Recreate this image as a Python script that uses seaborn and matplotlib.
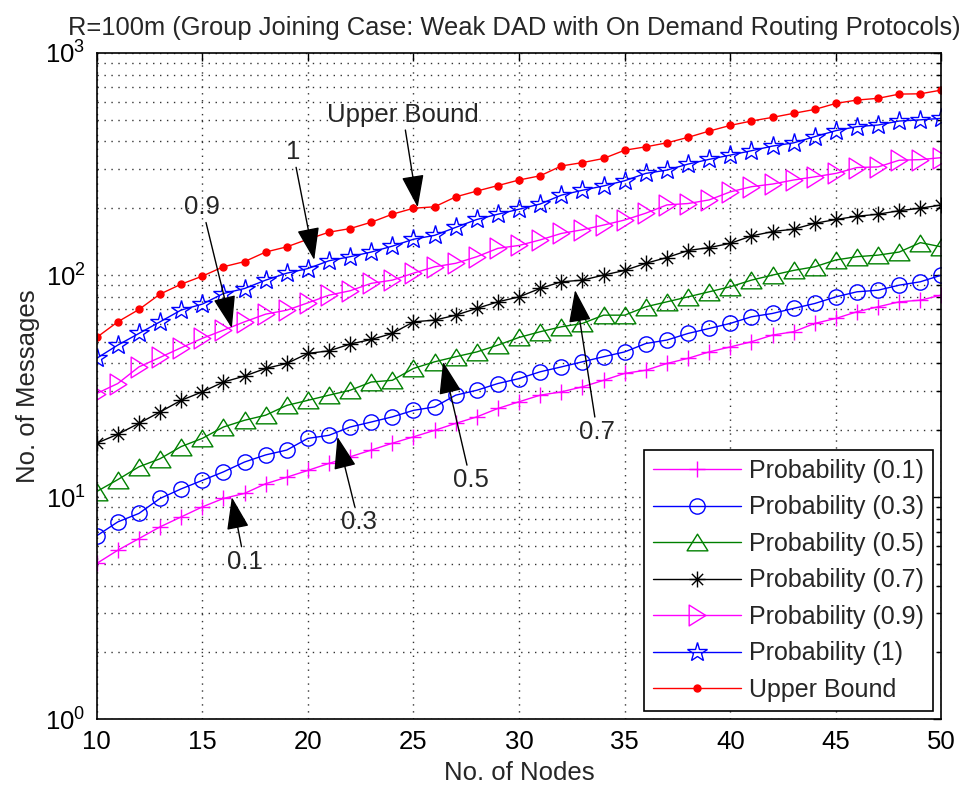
import numpy as np
import pandas as pd
import matplotlib
matplotlib.use("Agg")
import matplotlib.pyplot as plt
from matplotlib.path import Path
from matplotlib.ticker import LogLocator, FixedLocator, NullLocator
import seaborn as sns

# ---- data -------------------------------------------------------------
nodes = list(range(10, 51))

p01 = [5.03, 5.77, 6.51, 7.35, 8.15, 9.04, 9.87, 10.4, 11.5, 12.3,
       13.2, 14.2, 15.2, 16.3, 17.5, 18.7, 20.0, 21.5, 23.0, 25.1,
       26.9, 28.8, 29.8, 31.4, 33.6, 36.1, 37.3, 40.0, 42.2, 45.1,
       47.5, 50.1, 53.7, 55.6, 60.6, 63.8, 68.4, 72.0, 75.8, 77.1, 81.3]

p03 = [6.7, 7.74, 8.45, 9.87, 10.9, 11.9, 13.0, 14.4, 15.5, 16.3,
       18.4, 19.0, 20.7, 21.8, 23.0, 24.6, 25.5, 28.8, 30.3, 32.5,
       34.2, 36.7, 38.6, 40.7, 42.9, 45.1, 49.2, 51.0, 54.6, 57.5,
       60.6, 64.9, 67.2, 70.8, 74.5, 79.8, 84.1, 85.5, 90.1, 93.3, 100.0]

p05 = [10.6, 12.0, 13.7, 14.9, 16.9, 18.4, 20.7, 22.2, 23.4, 25.9,
       27.3, 28.8, 30.3, 33.0, 33.6, 38.0, 40.7, 42.9, 45.1, 48.4,
       52.4, 55.6, 58.5, 60.6, 66.0, 66.0, 72.0, 75.8, 79.8, 84.1,
       88.6, 94.9, 100.0, 105.0, 109.0, 117.0, 121.0, 123.0, 127.0, 140.0, 134.0]

p07 = [17.5, 19.2, 21.5, 24.2, 27.3, 29.8, 33.0, 35.1, 38.0, 40.0,
       44.4, 45.6, 48.9, 51.3, 54.6, 61.6, 62.7, 66.0, 70.8, 75.8,
       79.8, 87.1, 93.3, 94.9, 100.0, 105.0, 113.0, 120.0, 129.0, 133.0,
       139.0, 150.0, 157.0, 161.0, 171.0, 178.0, 184.0, 188.0, 195.0, 200.0, 207.0]

p09 = [29.3, 32.5, 38.6, 42.6, 47.1, 51.9, 56.5, 61.6, 66.7, 69.5,
       75.0, 81.2, 85.0, 91.8, 94.9, 102.0, 109.0, 113.0, 121.0, 132.0,
       136.0, 144.0, 154.0, 160.0, 168.0, 177.0, 190.0, 207.0, 210.0, 218.0,
       237.0, 250.0, 257.0, 268.0, 277.0, 287.0, 305.0, 307.0, 329.0, 331.0, 338.0]

p10 = [42.2, 48.4, 54.6, 61.6, 69.6, 74.0, 82.6, 87.0, 94.9, 102.0,
       107.0, 116.0, 121.0, 127.0, 135.0, 145.0, 151.0, 164.0, 178.0, 188.0,
       198.0, 209.0, 229.0, 241.0, 252.0, 266.0, 287.0, 297.0, 316.0, 332.0,
       347.0, 363.0, 381.0, 394.0, 420.0, 447.0, 466.0, 474.0, 494.0, 500.0, 508.0]

upper = [52.4, 61.6, 70.0, 82.1, 91.0, 98.9, 109.0, 115.0, 127.0, 134.0,
         145.0, 156.0, 162.0, 173.0, 188.0, 200.0, 203.0, 225.0, 239.0, 253.0,
         268.0, 280.0, 310.0, 321.0, 335.0, 365.0, 378.0, 394.0, 417.0, 445.0,
         472.0, 494.0, 513.0, 535.0, 557.0, 593.0, 614.0, 625.0, 653.0, 655.0, 681.0]

labels = ["Probability (0.1)", "Probability (0.3)", "Probability (0.5)",
          "Probability (0.7)", "Probability (0.9)", "Probability (1)", "Upper Bound"]
x_ticks = [10, 15, 20, 25, 30, 35, 40, 45, 50]

# callout text: (text, text position, arrow tip)
callouts = [
    ("Upper Bound", (24.5, 527), (25.2, 202)),
    ("1", (19.3, 358), (20.3, 117)),
    ("0.9", (15.0, 202), (16.4, 57.7)),
    ("0.7", (33.7, 19.6), (32.65, 85.6)),
    ("0.5", (27.7, 11.9), (26.4, 40.7)),
    ("0.3", (22.4, 7.74), (21.4, 18.7)),
    ("0.1", (17.0, 5.11), (16.4, 10.0)),
]

# ---- marker shapes -----------------------------------------------------
def asterisk_path():
    verts, codes = [], []
    for ang in (0, 45, 90, 135):
        r = np.deg2rad(ang)
        dx, dy = np.cos(r), np.sin(r)
        verts += [(-dx, -dy), (dx, dy)]
        codes += [Path.MOVETO, Path.LINETO]
    return Path(verts, codes)

tri_up = Path([(0, 0.8), (-1, -0.8), (1, -0.8), (0, 0.8)],
              [Path.MOVETO, Path.LINETO, Path.LINETO, Path.CLOSEPOLY])
tri_right = Path([(0.8, 0), (-0.8, 1), (-0.8, -1), (0.8, 0)],
                 [Path.MOVETO, Path.LINETO, Path.LINETO, Path.CLOSEPOLY])

styles = [
    dict(color="#FF00FF", marker="+", ms=12, fc="#FF00FF"),
    dict(color="#0000FF", marker="o", ms=11, fc="none"),
    dict(color="#008000", marker=tri_up, ms=15, fc="none"),
    dict(color="#000000", marker=asterisk_path(), ms=11.5, fc="none"),
    dict(color="#FF00FF", marker=tri_right, ms=15, fc="none"),
    dict(color="#0000FF", marker="*", ms=15, fc="none"),
    dict(color="#FF0000", marker=".", ms=10, fc="#FF0000"),
]

# ---- figure ------------------------------------------------------------
sns.set_theme(style="white")
plt.rcParams["font.family"] = ["Liberation Sans", "DejaVu Sans"]
plt.rcParams["mathtext.fontset"] = "custom"
plt.rcParams["mathtext.rm"] = "Liberation Sans"
plt.rcParams["mathtext.it"] = "Liberation Sans:italic"

FS = 18.5
fig = plt.figure(figsize=(9.61, 7.85), dpi=100)
ax = fig.add_axes([0.1006, 0.0837, 0.9797 - 0.1006, 0.9325 - 0.0837])

series = [p01, p03, p05, p07, p09, p10, upper]
for vals, lab, st in zip(series, labels, styles):
    df = pd.DataFrame({"nodes": nodes, "messages": vals})
    sns.lineplot(data=df, x="nodes", y="messages", ax=ax, label=lab,
                 color=st["color"], linewidth=1.0, marker=st["marker"],
                 markersize=st["ms"], markerfacecolor=st["fc"],
                 markeredgecolor=st["color"], markeredgewidth=1.0,
                 errorbar=None, sort=False)

ax.set_yscale("log")
ax.set_xlim(10, 50)
ax.set_ylim(1, 1000)
ax.xaxis.set_major_locator(FixedLocator(x_ticks))
ax.xaxis.set_minor_locator(NullLocator())
ax.yaxis.set_major_locator(LogLocator(base=10))
ax.yaxis.set_minor_locator(LogLocator(base=10, subs=np.arange(2, 10)))

grid_kw = dict(color="0.2", linestyle=(0, (1, 4)), linewidth=1.0)
ax.grid(True, which="major", axis="both", **grid_kw)
ax.grid(True, which="minor", axis="y", **grid_kw)

ax.tick_params(which="both", direction="in", top=True, right=True,
               colors="black", labelsize=FS)
ax.tick_params(which="major", length=6, width=1.0, pad=8)
ax.tick_params(which="minor", length=3.5, width=1.0)
for sp in ax.spines.values():
    sp.set_visible(True)
    sp.set_color("black")
    sp.set_linewidth(1.2)

ax.set_xlabel("No. of Nodes", fontsize=FS, labelpad=5)
ax.set_ylabel("No. of Messages", fontsize=FS, labelpad=4)
ax.set_title("R=100m (Group Joining Case: Weak DAD with On Demand Routing Protocols)",
             fontsize=18.4, pad=13, x=0.494)

for txt, tpos, tip in callouts:
    ax.annotate(txt, xy=tip, xytext=tpos, fontsize=FS, ha="center", va="center",
                arrowprops=dict(arrowstyle="-|>,head_length=1.1,head_width=0.38",
                                color="black", lw=1.0, shrinkA=0, shrinkB=0))

leg = ax.legend(loc="lower right", fontsize=18, frameon=True, fancybox=False,
                edgecolor="black", framealpha=1, borderaxespad=0.35,
                handlelength=3.55, handletextpad=0.3, labelspacing=0.5,
                borderpad=0.35, numpoints=1)
leg.get_frame().set_linewidth(1.2)

fig.savefig("out.png", dpi=100, facecolor="white")
